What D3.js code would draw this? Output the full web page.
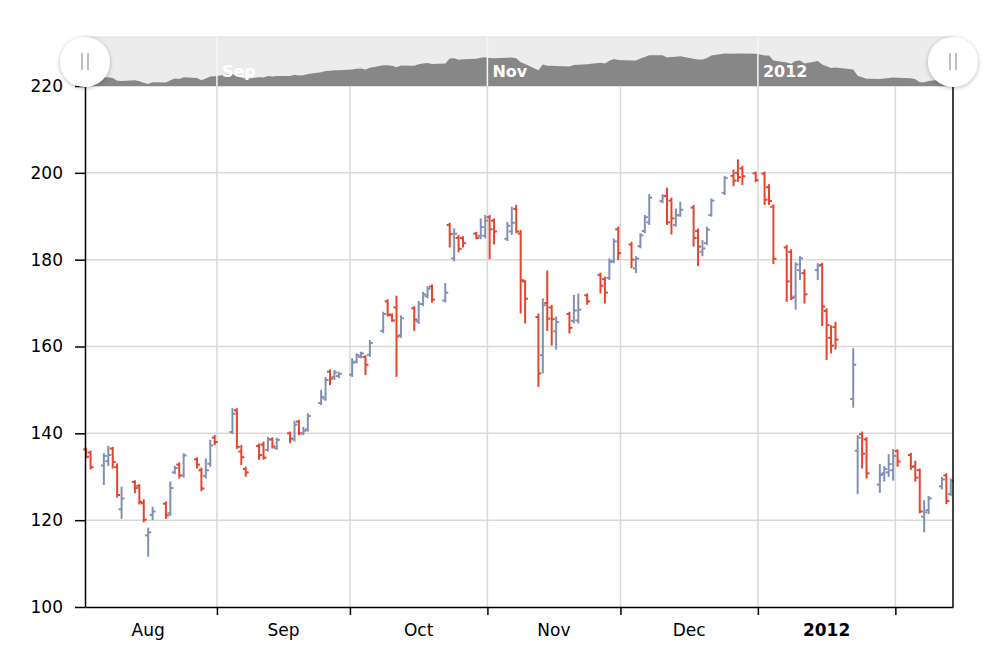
<!DOCTYPE html>
<html>
<head>
<meta charset="utf-8">
<script src="https://cdn.jsdelivr.net/npm/d3@7"></script>
<style>
	body { margin: 0; background: #fff; }
	svg { display: block; font-family: "DejaVu Sans", Verdana, sans-serif; }
	.axis text { font-size: 17px; fill: #000; }
	.axis path, .axis line { stroke: #000; stroke-width: 1.5; }
</style>
</head>
<body>
<div id="chart"></div>
<script>
var dates = [
	'2011-08-02', '2011-08-03', '2011-08-06', '2011-08-07', '2011-08-08', '2011-08-09', '2011-08-10',
	'2011-08-13', '2011-08-14', '2011-08-15', '2011-08-16', '2011-08-17',
	'2011-08-20', '2011-08-21', '2011-08-22', '2011-08-23', '2011-08-24',
	'2011-08-27', '2011-08-28', '2011-08-29', '2011-08-30', '2011-08-31',
	'2011-09-04', '2011-09-05', '2011-09-06', '2011-09-07',
	'2011-09-10', '2011-09-11', '2011-09-12', '2011-09-13', '2011-09-14',
	'2011-09-17', '2011-09-18', '2011-09-19', '2011-09-20', '2011-09-21',
	'2011-09-24', '2011-09-25', '2011-09-26', '2011-09-27', '2011-09-28',
	'2011-10-01', '2011-10-02', '2011-10-03', '2011-10-04', '2011-10-05',
	'2011-10-08', '2011-10-09', '2011-10-10', '2011-10-11', '2011-10-12',
	'2011-10-15', '2011-10-16', '2011-10-17', '2011-10-18', '2011-10-19',
	'2011-10-22', '2011-10-23', '2011-10-24', '2011-10-25', '2011-10-26',
	'2011-10-29', '2011-10-30', '2011-10-31', '2011-11-01', '2011-11-02',
	'2011-11-05', '2011-11-06', '2011-11-07', '2011-11-08', '2011-11-09',
	'2011-11-12', '2011-11-13', '2011-11-14', '2011-11-15', '2011-11-16',
	'2011-11-19', '2011-11-20', '2011-11-21', '2011-11-23',
	'2011-11-26', '2011-11-27', '2011-11-28', '2011-11-29', '2011-11-30',
	'2011-12-03', '2011-12-04', '2011-12-05', '2011-12-06', '2011-12-07',
	'2011-12-10', '2011-12-11', '2011-12-12', '2011-12-13', '2011-12-14',
	'2011-12-17', '2011-12-18', '2011-12-19', '2011-12-20', '2011-12-21',
	'2011-12-24', '2011-12-26', '2011-12-27', '2011-12-28',
	'2011-12-31', '2012-01-02', '2012-01-03', '2012-01-04',
	'2012-01-07', '2012-01-08', '2012-01-09', '2012-01-10', '2012-01-11',
	'2012-01-14', '2012-01-15', '2012-01-16', '2012-01-17', '2012-01-18',
	'2012-01-22', '2012-01-23', '2012-01-24', '2012-01-25',
	'2012-01-28', '2012-01-29', '2012-01-30', '2012-01-31', '2012-02-01',
	'2012-02-04', '2012-02-05', '2012-02-06', '2012-02-07', '2012-02-08',
	'2012-02-11', '2012-02-12', '2012-02-13'
];

var opens = [
	136.3, 135.6, 132.6, 133.6, 136.5, 132.2, 122.5,
	128.8, 127.9, 123.9, 116.5, 121.2,
	123.8, 121.6, 131.0, 132.8, 130.3,
	134.0, 131.5, 130.2, 133.0, 139.0,
	140.3, 145.3, 135.8, 131.8,
	137.1, 137.4, 136.2, 138.6, 136.6,
	140.0, 138.6, 142.7, 140.0, 140.9,
	147.0, 148.0, 154.2, 153.0, 153.2,
	153.5, 156.5, 157.6, 157.6, 158.1,
	163.6, 170.4, 167.2, 169.0, 162.6,
	168.8, 165.8, 169.8, 171.6, 173.8,
	170.6, 188.0, 180.3, 185.0, 185.0,
	186.0, 185.5, 185.5, 189.8, 189.0,
	184.8, 186.5, 191.7, 186.0, 175.0,
	166.8, 158.0, 170.0, 169.0, 163.5,
	167.5, 165.9, 166.0, 171.8,
	176.5, 175.5, 175.8, 179.7, 187.0,
	183.5, 178.0, 183.1, 186.6, 188.6,
	193.5, 194.7, 193.6, 188.0, 190.2,
	192.0, 186.6, 181.8, 183.8, 190.3,
	195.4, 199.3, 200.0, 201.0,
	199.9, 199.8, 196.7, 192.2,
	182.8, 181.8, 171.5, 177.6, 176.9,
	177.6, 178.8, 168.2, 162.0, 164.5,
	147.9, 136.0, 139.8, 138.6,
	128.2, 130.8, 131.0, 131.5, 135.9,
	135.0, 132.4, 131.5, 120.8, 122.3,
	127.8, 130.3, 126.0
];

var highs = [
	136.7, 136.0, 135.4, 137.1, 136.9, 133.1, 127.7,
	129.2, 128.3, 124.8, 118.3, 123.1,
	124.3, 128.9, 132.5, 133.3, 135.4,
	134.5, 132.1, 134.2, 138.5, 139.6,
	145.8, 145.8, 137.3, 132.3,
	137.7, 138.1, 139.2, 139.1, 139.0,
	140.4, 142.9, 143.1, 141.5, 144.6,
	150.0, 153.0, 154.7, 154.6, 154.2,
	157.3, 158.4, 158.8, 158.0, 161.5,
	168.0, 170.9, 167.6, 171.7, 167.2,
	169.3, 170.5, 172.6, 173.9, 174.3,
	174.6, 188.5, 187.2, 185.7, 185.4,
	186.4, 189.5, 190.3, 190.3, 189.5,
	188.7, 192.2, 192.6, 186.8, 175.3,
	167.6, 171.1, 177.5, 169.6, 166.9,
	168.0, 171.9, 172.2, 172.2,
	177.0, 176.1, 180.3, 184.9, 187.6,
	184.1, 180.8, 186.1, 190.3, 195.1,
	195.1, 196.6, 194.3, 191.8, 193.3,
	192.6, 187.2, 184.5, 187.6, 194.1,
	199.3, 200.8, 203.1, 201.6,
	200.3, 200.3, 197.4, 192.7,
	183.4, 182.4, 179.4, 180.8, 177.8,
	179.2, 179.3, 168.8, 164.9, 165.7,
	159.6, 139.6, 140.4, 139.1,
	132.9, 132.5, 135.2, 136.4, 136.3,
	135.5, 133.7, 131.9, 124.6, 125.6,
	130.0, 130.8, 129.6
];

var lows = [
	134.2, 131.7, 128.1, 132.5, 131.9, 125.2, 120.3,
	126.2, 123.6, 119.5, 111.6, 120.0,
	120.3, 121.0, 130.6, 129.6, 129.8,
	131.9, 126.7, 129.6, 132.3, 137.3,
	139.8, 136.4, 132.7, 130.0,
	133.9, 133.9, 135.8, 136.5, 136.2,
	137.7, 138.1, 139.6, 139.6, 140.4,
	146.5, 147.5, 151.1, 152.3, 152.7,
	153.0, 156.1, 157.3, 153.4, 157.6,
	163.1, 166.9, 165.7, 153.0, 162.0,
	163.6, 165.2, 169.3, 171.1, 170.1,
	170.1, 182.8, 179.6, 181.7, 182.8,
	184.7, 184.7, 184.9, 180.1, 183.5,
	184.3, 185.7, 186.1, 167.6, 165.3,
	150.7, 153.8, 163.6, 160.2, 159.3,
	163.0, 165.3, 165.3, 169.6,
	172.2, 169.9, 175.3, 179.2, 179.9,
	178.0, 176.9, 182.6, 186.1, 188.0,
	193.0, 188.0, 185.8, 187.6, 189.9,
	183.0, 178.5, 180.8, 183.4, 189.9,
	194.9, 196.9, 197.9, 197.2,
	197.9, 192.6, 192.6, 179.0,
	170.3, 170.7, 168.5, 175.3, 169.9,
	175.3, 164.7, 156.9, 158.4, 159.3,
	145.9, 126.0, 131.9, 129.6,
	126.3, 128.9, 130.0, 129.1, 132.3,
	131.6, 128.9, 121.6, 117.2, 121.4,
	127.1, 123.7, 125.6
];

var closes = [
	134.6, 132.2, 134.8, 135.0, 133.4, 125.8, 125.0,
	127.4, 124.2, 120.1, 117.2, 122.0,
	121.1, 127.4, 132.0, 130.3, 134.9,
	132.8, 127.3, 131.5, 137.2, 138.0,
	144.5, 136.9, 134.5, 131.0,
	135.0, 134.4, 138.6, 137.0, 138.5,
	138.8, 142.0, 140.0, 140.6, 144.0,
	148.4, 152.3, 152.6, 154.0, 153.7,
	156.3, 158.0, 158.4, 155.8, 160.8,
	167.5, 167.4, 166.0, 162.3, 166.5,
	166.2, 169.8, 172.0, 173.3, 170.8,
	172.4, 185.9, 186.0, 182.5, 183.8,
	185.0, 187.5, 189.0, 187.0, 186.5,
	187.8, 188.5, 186.5, 175.3, 171.0,
	153.8, 169.5, 166.4, 166.3, 165.6,
	164.3, 168.3, 168.5, 170.4,
	174.0, 172.4, 179.5, 184.2, 181.5,
	180.0, 180.2, 185.6, 189.8, 194.3,
	194.6, 188.6, 189.5, 190.3, 191.5,
	185.0, 183.0, 182.6, 186.9, 193.6,
	198.8, 198.2, 199.0, 199.2,
	198.3, 193.8, 193.5, 180.2,
	175.0, 171.2, 178.9, 180.3, 172.0,
	178.6, 169.2, 164.9, 160.2, 161.6,
	155.8, 139.0, 135.3, 130.8,
	130.4, 131.8, 132.9, 134.8, 133.5,
	132.3, 129.8, 122.0, 121.8, 125.0,
	129.4, 124.4, 129.0
];

var yTicks = [100, 120, 140, 160, 180, 200, 220];

var upColor = '#8190b3', downColor = '#e5452f';

function drawChart() {
	var parseDate = d3.timeParse('%Y-%m-%d');
	var rows = dates.map(function (d, i) {
		return { date: parseDate(d), open: opens[i], high: highs[i], low: lows[i], close: closes[i] };
	});

	var width = 1000, height = 671;
	var left = 85, right = 953, top = 86, bottom = 607;
	var navTop = 37, navMid = 62;

	var x = d3.scaleTime()
		.domain([d3.timeHour.offset(rows[0].date, 6), d3.timeDay.offset(rows[rows.length - 1].date, 1)])
		.range([left, right]);
	var y = d3.scaleLinear().domain([100, 220]).range([bottom, top]);

	// bars sit in the middle of their day
	function mid(d) { return x(d3.timeHour.offset(d, 12)); }

	var svg = d3.select('#chart').append('svg')
		.attr('width', width)
		.attr('height', height);

	var filter = svg.append('defs').append('filter')
		.attr('id', 'shadow')
		.attr('x', '-50%').attr('y', '-50%')
		.attr('width', '200%').attr('height', '200%');
	filter.append('feDropShadow')
		.attr('dx', 0).attr('dy', 1)
		.attr('stdDeviation', 2)
		.attr('flood-color', '#000')
		.attr('flood-opacity', 0.3);

	var months = d3.timeMonth.range(d3.timeMonth.ceil(x.domain()[0]), x.domain()[1]);

	// grid
	var grid = svg.append('g');
	grid.selectAll('.hgrid').data(yTicks.slice(1))
		.enter().append('line')
		.attr('x1', left).attr('x2', right)
		.attr('y1', function (d) { return y(d); })
		.attr('y2', function (d) { return y(d); })
		.attr('stroke', '#d9d9d9')
		.attr('stroke-width', 1.5);
	grid.selectAll('.vgrid').data(months)
		.enter().append('line')
		.attr('x1', function (d) { return x(d); })
		.attr('x2', function (d) { return x(d); })
		.attr('y1', top).attr('y2', bottom)
		.attr('stroke', '#d9d9d9')
		.attr('stroke-width', 1.5);

	// ohlc bars
	var bars = svg.append('g').selectAll('g').data(rows)
		.enter().append('g')
		.attr('stroke', function (d) { return d.close >= d.open ? upColor : downColor; })
		.attr('stroke-width', 2);
	bars.append('line')
		.attr('x1', function (d) { return mid(d.date); })
		.attr('x2', function (d) { return mid(d.date); })
		.attr('y1', function (d) { return y(d.high); })
		.attr('y2', function (d) { return y(d.low); });
	bars.append('line')
		.attr('x1', function (d) { return mid(d.date) - 3; })
		.attr('x2', function (d) { return mid(d.date); })
		.attr('y1', function (d) { return y(d.open); })
		.attr('y2', function (d) { return y(d.open); });
	bars.append('line')
		.attr('x1', function (d) { return mid(d.date); })
		.attr('x2', function (d) { return mid(d.date) + 3; })
		.attr('y1', function (d) { return y(d.close); })
		.attr('y2', function (d) { return y(d.close); });

	// axes
	svg.append('g')
		.attr('class', 'axis')
		.attr('transform', 'translate(' + left + ',0)')
		.call(d3.axisLeft(y).tickValues(yTicks).tickSize(10).tickPadding(12).tickSizeOuter(0))
		.attr('font-size', null)
		.attr('font-family', null)
		.selectAll('text')
			.attr('font-size', 17);

	svg.append('line')
		.attr('x1', right).attr('x2', right)
		.attr('y1', top).attr('y2', bottom)
		.attr('stroke', '#000')
		.attr('stroke-width', 1.5);

	svg.append('g')
		.attr('class', 'axis')
		.attr('transform', 'translate(0,' + bottom + ')')
		.call(d3.axisBottom(x).tickValues(months).tickSize(8).tickFormat('').tickSizeOuter(0));

	var labelMonths = d3.timeMonth.range(d3.timeMonth.floor(x.domain()[0]), x.domain()[1])
		.map(function (m) { return new Date((+m + +d3.timeMonth.offset(m, 1)) / 2); })
		.filter(function (d) { return x(d) > left && x(d) < right; });

	svg.append('g').attr('class', 'axis').selectAll('text').data(labelMonths)
		.enter().append('text')
		.attr('x', function (d) { return x(d); })
		.attr('y', bottom + 29)
		.attr('text-anchor', 'middle')
		.attr('font-size', 17)
		.attr('font-weight', function (d) { return d.getMonth() === 0 ? 'bold' : 'normal'; })
		.text(function (d) { return d.getMonth() === 0 ? d3.timeFormat('%Y')(d) : d3.timeFormat('%b')(d); });

	// navigator
	var nav = svg.append('g');
	var navY = d3.scaleLinear()
		.domain([d3.min(lows), d3.max(highs)])
		.range([top, 52]);

	nav.append('rect')
		.attr('x', left).attr('y', navTop)
		.attr('width', right - left).attr('height', top - navTop)
		.attr('fill', '#ececec');
	nav.append('line')
		.attr('x1', left).attr('x2', right)
		.attr('y1', navTop).attr('y2', navTop)
		.attr('stroke', '#dcdcdc');

	nav.append('path')
		.datum(rows)
		.attr('fill', '#878787')
		.attr('d', d3.area()
			.x(function (d) { return mid(d.date); })
			.y0(top)
			.y1(function (d) { return navY(d.close); }));

	var navMonths = d3.timeMonth.every(2).range(x.domain()[0], x.domain()[1]);
	nav.selectAll('.navgrid').data(navMonths)
		.enter().append('line')
		.attr('x1', function (d) { return x(d); })
		.attr('x2', function (d) { return x(d); })
		.attr('y1', navTop).attr('y2', top)
		.attr('stroke', '#f6f6f6')
		.attr('stroke-width', 1.5);
	nav.selectAll('text').data(navMonths)
		.enter().append('text')
		.attr('x', function (d) { return x(d) + 5; })
		.attr('y', 77)
		.attr('fill', '#fff')
		.attr('font-size', '16px')
		.attr('font-weight', 'bold')
		.text(function (d) { return d.getMonth() === 0 ? d3.timeFormat('%Y')(d) : d3.timeFormat('%b')(d); });

	var handles = nav.selectAll('.handle').data([left, right])
		.enter().append('g')
		.attr('transform', function (d) { return 'translate(' + d + ',' + navMid + ')'; });
	handles.append('circle')
		.attr('r', 25)
		.attr('fill', '#fff')
		.attr('filter', 'url(#shadow)');
	handles.selectAll('line').data([-3, 3])
		.enter().append('line')
		.attr('x1', function (d) { return d; })
		.attr('x2', function (d) { return d; })
		.attr('y1', -9).attr('y2', 8)
		.attr('stroke', '#aaa')
		.attr('stroke-width', 1.5);
}

drawChart();
</script>
</body>
</html>
